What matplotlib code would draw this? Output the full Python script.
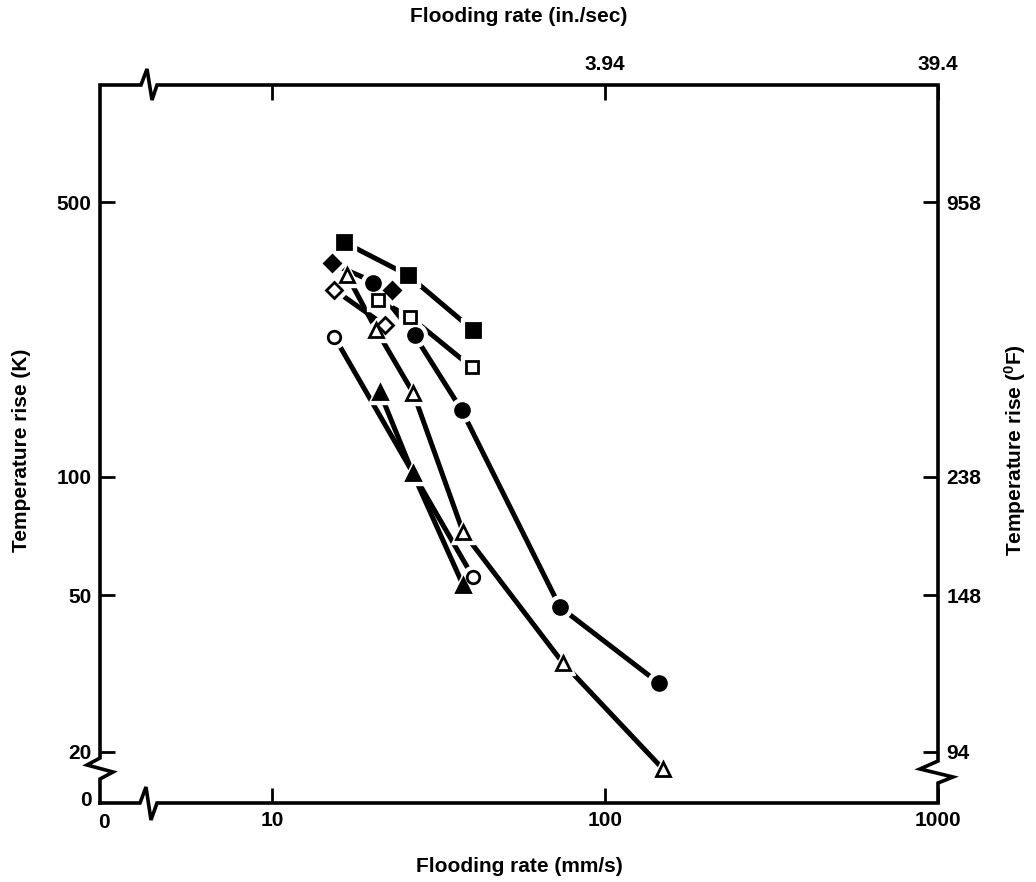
import numpy as np
import matplotlib.pyplot as plt
from matplotlib.ticker import NullLocator, FixedLocator, FixedFormatter

plt.rcParams['font.family'] = ['Liberation Sans', 'DejaVu Sans']

# flooding rate (mm/s) and temperature rise (K) for each test series
sq_filled_x = [16.4, 25.6, 40.2]
sq_filled_y = [396, 326, 236]
sq_open_x = [20.8, 26.0, 39.8]
sq_open_y = [282, 255, 190]
dia_filled_x = [15.1, 22.9]
dia_filled_y = [349, 299]
dia_open_x = [15.4, 21.8]
dia_open_y = [299, 243]
circ_filled_x = [20.1, 26.8, 37.1, 73.3, 145]
circ_filled_y = [311, 229, 148, 46.6, 29.9]
circ_open_x = [15.4, 40.2]
circ_open_y = [227, 55.5]
tri_filled_x = [21.1, 26.5, 37.5]
tri_filled_y = [164, 102, 53.0]
tri_open_x = [16.8, 20.6, 26.6, 37.5, 74.8, 149]
tri_open_y = [326, 236, 163, 72.3, 33.6, 18.1]

# axis ticks and the converted labels
x_ticks = [10, 100, 1000]
x_labels = ['10', '100', '1000']
top_labels = ['', '3.94', '39.4']
y_ticks = [20, 50, 100, 500]
y_labels = ['20', '50', '100', '500']
right_labels = ['94', '148', '238', '958']

series = [
    (tri_open_x, tri_open_y, '^', 'white', 10),
    (circ_filled_x, circ_filled_y, 'o', 'black', 10),
    (circ_open_x, circ_open_y, 'o', 'white', 9),
    (tri_filled_x, tri_filled_y, '^', 'black', 10),
    (dia_open_x, dia_open_y, 'D', 'white', 8.5),
    (dia_filled_x, dia_filled_y, 'D', 'black', 8.5),
    (sq_open_x, sq_open_y, 's', 'white', 9),
    (sq_filled_x, sq_filled_y, 's', 'black', 10),
]

fig = plt.figure(figsize=(10.36, 8.82), dpi=100)
W, H = 1036, 882
L, R, T, B = 100, 938, 85, 803
ax = fig.add_axes([L / W, (H - B) / H, (R - L) / W, (B - T) / H])
ax.set_xscale('log')
ax.set_yscale('log')
ax.set_xlim(3.045, 1000)
ax.set_ylim(14.8, 993)

for xs, ys, m, fc, ms in series:
    ax.plot(xs, ys, '-', color='black', lw=3.6, solid_capstyle='butt', zorder=2)
for xs, ys, m, fc, ms in series:
    ax.plot(xs, ys, ls='none', marker=m, ms=ms + 7, mfc='white', mec='white', zorder=3)
for xs, ys, m, fc, ms in series:
    ax.plot(xs, ys, ls='none', marker=m, ms=ms, mfc=fc, mec='black', mew=2, zorder=4)

for s in ax.spines.values():
    s.set_visible(False)

tick_font = dict(fontsize=15, fontweight='bold')
ax.xaxis.set_major_locator(FixedLocator(x_ticks))
ax.xaxis.set_major_formatter(FixedFormatter(x_labels))
ax.yaxis.set_major_locator(FixedLocator(y_ticks))
ax.yaxis.set_major_formatter(FixedFormatter(y_labels))
ax.xaxis.set_minor_locator(NullLocator())
ax.yaxis.set_minor_locator(NullLocator())
ax.tick_params(direction='in', length=11, width=2, pad=6, labelsize=15)
for lab in ax.get_xticklabels() + ax.get_yticklabels():
    lab.set_fontweight('bold')

axr = ax.twinx()
axr.set_yscale('log')
axr.set_ylim(ax.get_ylim())
axr.yaxis.set_major_locator(FixedLocator(y_ticks))
axr.yaxis.set_major_formatter(FixedFormatter(right_labels))
axr.yaxis.set_minor_locator(NullLocator())
axr.tick_params(direction='in', length=11, width=2, pad=6, labelsize=15)
for lab in axr.get_yticklabels():
    lab.set_fontweight('bold')

axt = ax.twiny()
axt.set_xscale('log')
axt.set_xlim(ax.get_xlim())
axt.xaxis.set_major_locator(FixedLocator(x_ticks))
axt.xaxis.set_major_formatter(FixedFormatter(top_labels))
axt.xaxis.set_minor_locator(NullLocator())
axt.tick_params(direction='in', length=11, width=2, pad=8, labelsize=15)
for lab in axt.get_xticklabels():
    lab.set_fontweight('bold')
for a in (axr, axt):
    for s in a.spines.values():
        s.set_visible(False)


def frac(px, py):
    return (px - L) / (R - L), (B - py) / (B - T)


# frame with the axis breaks drawn in
frame = [(L, B), (140, B), (146, 787), (151, 820), (157, B), (R, B),
         (R, 783), (953, 777), (920, 769), (R, 761), (R, T),
         (157, T), (152, 100), (147, 69), (141, T), (L, T),
         (L, 758), (87, 765), (113, 772), (L, 779), (L, B)]
fx, fy = zip(*[frac(*p) for p in frame])
ax.plot(fx, fy, color='black', lw=2.6, transform=ax.transAxes, clip_on=False,
        solid_joinstyle='miter', zorder=5)

ax.annotate('0', (0, 0), xycoords='axes fraction', xytext=(-6, 2),
            textcoords='offset points', ha='right', va='center', **tick_font)
ax.annotate('0', (0, 0), xycoords='axes fraction', xytext=(3, -14),
            textcoords='offset points', ha='center', va='center', **tick_font)

label_font = dict(fontsize=15, fontweight='bold')
fig.text(519 / W, 1 - 867 / H, 'Flooding rate (mm/s)', ha='center', va='center', **label_font)
fig.text(519 / W, 1 - 16 / H, 'Flooding rate (in./sec)', ha='center', va='center', **label_font)
fig.text(22 / W, 1 - 450 / H, 'Temperature rise (K)', rotation=90, ha='center', va='center', **label_font)
fig.text(1015 / W, 1 - 450 / H, r'Temperature rise ($\mathregular{^0}$F)', rotation=90,
         ha='center', va='center', **label_font)

fig.savefig('out.png', dpi=100)
